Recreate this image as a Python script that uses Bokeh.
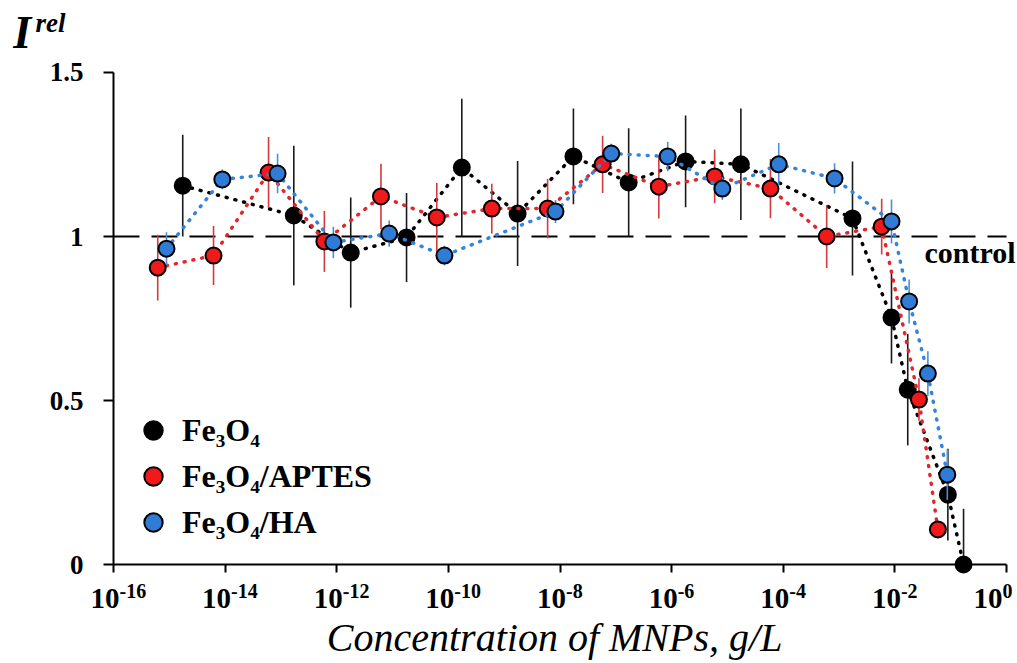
import numpy as np
from bokeh.plotting import figure
from bokeh.models import (Range1d, FixedTicker, ColumnDataSource, Label, LabelSet,
                          Legend, LegendItem)
from bokeh.embed import file_html
from bokeh.resources import INLINE

# ---------------- data ----------------
fe3o4_conc = [1.74e-15, 1.70e-13, 1.78e-12, 1.78e-11, 1.74e-10, 1.74e-9, 1.74e-8,
              1.70e-7, 1.78e-6, 1.74e-5, 1.74e-3, 8.7e-3, 1.7e-2, 8.9e-2, 0.17]
fe3o4_irel = [1.155, 1.064, 0.951, 0.997, 1.21, 1.07, 1.244,
              1.165, 1.229, 1.22, 1.055, 0.753, 0.533, 0.213, 0.0]
fe3o4_err = [0.155, 0.213, 0.168, 0.136, 0.21, 0.16, 0.146,
             0.165, 0.14, 0.17, 0.174, 0.14, 0.17, 0.14, 0.17]

aptes_conc = [6.2e-16, 6.2e-15, 6.0e-14, 6.0e-13, 6.2e-12, 6.2e-11, 6.0e-10, 6.0e-9,
              5.8e-8, 5.9e-7, 5.9e-6, 5.9e-5, 6.0e-4, 5.8e-3, 2.7e-2, 5.9e-2]
aptes_irel = [0.905, 0.942, 1.195, 0.985, 1.122, 1.058, 1.085, 1.085,
              1.22, 1.152, 1.183, 1.146, 1.0, 1.03, 0.503, 0.107]
aptes_err = [0.1, 0.09, 0.108, 0.093, 0.1, 0.105, 0.076, 0.09,
             0.087, 0.097, 0.082, 0.09, 0.096, 0.085, 0.065, 0.0]

ha_conc = [8.9e-16, 8.9e-15, 8.7e-14, 8.7e-13, 8.7e-12, 8.5e-11, 8.3e-9, 8.3e-8,
           8.5e-7, 8.1e-6, 8.3e-5, 8.3e-4, 8.7e-3, 1.8e-2, 3.9e-2, 8.7e-2]
ha_irel = [0.963, 1.174, 1.192, 0.982, 1.009, 0.942, 1.076, 1.253,
           1.244, 1.146, 1.22, 1.177, 1.046, 0.802, 0.582, 0.274]
ha_err = [0.05, 0.03, 0.06, 0.048, 0.04, 0.03, 0.035, 0.03,
          0.045, 0.035, 0.065, 0.046, 0.067, 0.067, 0.068, 0.077]

series_names = ["Fe\u2083O\u2084", "Fe\u2083O\u2084/APTES", "Fe\u2083O\u2084/HA"]

x_tick_values = [1e-16, 1e-14, 1e-12, 1e-10, 1e-8, 1e-6, 1e-4, 1e-2, 1.0]
x_tick_base = ["10"] * len(x_tick_values)
x_tick_exponents = ["-16", "-14", "-12", "-10", "-8", "-6", "-4", "-2", "0"]
y_tick_values = [0, 0.5, 1, 1.5]
y_tick_labels = ["0", "0.5", "1", "1.5"]
control_level = 1.0

# layout: horizontal nudge (px) of each x tick label (last one kept inside the page)
x_tick_label_shift = [6, 6, 6, 6, 6, 6, 6, 6, -4]

# axis extents and the visible window around them
x_min, x_max = 1e-16, 1.0
y_min, y_max = 0.0, 1.5
x_view = (9.45e-19, 1.574)
y_view = (-0.3018, 1.7195)

FONT = "Liberation Serif"

p = figure(width=1017, height=663, x_axis_type="log",
           x_range=Range1d(*x_view), y_range=Range1d(*y_view),
           output_backend="svg", toolbar_location=None, title=None,
           min_border_left=0, min_border_right=0, min_border_top=0,
           min_border_bottom=0)
p.outline_line_color = None
p.xgrid.visible = False
p.ygrid.visible = False
p.background_fill_color = "white"
p.border_fill_color = "white"

# control line
p.segment(x0=[x_min], x1=[x_max], y0=[control_level], y1=[control_level],
          line_color="black", line_width=2, line_dash="26 12")

styles = [
    dict(conc=fe3o4_conc, y=fe3o4_irel, e=fe3o4_err, fill="#000000",
         line="#000000", err="#1a1a1a"),
    dict(conc=aptes_conc, y=aptes_irel, e=aptes_err, fill="#f01a1a",
         line="#e3262b", err="#d43a3e"),
    dict(conc=ha_conc, y=ha_irel, e=ha_err, fill="#2f7bd6",
         line="#3483dc", err="#4a8fdc"),
]

scatter_renderers = []
for s in styles:
    y = np.array(s["y"])
    e = np.array(s["e"])
    src = ColumnDataSource(dict(x=s["conc"], y=y, lo=np.maximum(y - e, y_min), hi=y + e))
    p.segment(x0="x", y0="lo", x1="x", y1="hi", source=src,
              line_color=s["err"], line_width=1.6)
    p.line(x="x", y="y", source=src, line_color=s["line"], line_width=3.5,
           line_dash="1 8", line_cap="round")
    r = p.scatter(x="x", y="y", source=src, size=16, fill_color=s["fill"],
                  line_color="black", line_width=2)
    scatter_renderers.append(r)

# axes
xa = p.xaxis[0]
xa.ticker = FixedTicker(ticks=x_tick_values)
xa.major_label_text_font_size = "0px"
xa.major_label_text_alpha = 0
xa.fixed_location = y_min
xa.bounds = (x_min, x_max)
xa.axis_line_width = 2
xa.axis_line_color = "black"
xa.major_tick_line_width = 2
xa.major_tick_line_color = "black"
xa.major_tick_out = 8
xa.major_tick_in = 0
xa.minor_tick_out = 0
xa.minor_tick_in = 0

ya = p.yaxis[0]
ya.ticker = FixedTicker(ticks=y_tick_values)
ya.major_label_overrides = dict(zip(y_tick_values, y_tick_labels))
ya.fixed_location = x_min
ya.bounds = (y_min, y_max)
ya.axis_line_width = 2
ya.axis_line_color = "black"
ya.major_tick_line_width = 2
ya.major_tick_line_color = "black"
ya.major_tick_out = 10
ya.major_tick_in = 0
ya.minor_tick_out = 0
ya.minor_tick_in = 0
ya.major_label_standoff = 20
ya.major_label_text_font = FONT
ya.major_label_text_font_style = "bold"
ya.major_label_text_font_size = "27px"
ya.major_label_text_color = "black"

# x tick labels: "10" with a raised exponent
tick_src = ColumnDataSource(dict(x=x_tick_values, base=x_tick_base,
                                 exp=x_tick_exponents, dx=x_tick_label_shift,
                                 yb=[-0.134] * len(x_tick_values),
                                 ye=[-0.1006] * len(x_tick_values)))
p.add_layout(LabelSet(x="x", y="yb", text="base", source=tick_src, x_offset="dx",
                      text_align="right", text_baseline="alphabetic",
                      text_font=FONT, text_font_style="bold",
                      text_font_size="29px", text_color="black"))
p.add_layout(LabelSet(x="x", y="ye", text="exp", source=tick_src, x_offset="dx",
                      text_align="left", text_baseline="alphabetic",
                      text_font=FONT, text_font_style="bold",
                      text_font_size="20px", text_color="black"))

# texts
p.add_layout(Label(x=8e-9, y=-0.224, text="Concentration of MNPs, g/L",
                   text_font=FONT, text_font_style="italic", text_font_size="40px",
                   text_align="center", text_baseline="alphabetic", text_color="black"))
p.add_layout(Label(x=1.6e-18, y=1.622, text="I", text_font=FONT,
                   text_font_style="bold italic", text_font_size="46px",
                   text_align="left", text_baseline="alphabetic", text_color="black"))
p.add_layout(Label(x=4.0e-18, y=1.652, text="rel", text_font=FONT,
                   text_font_style="bold italic", text_font_size="27px",
                   text_align="left", text_baseline="alphabetic", text_color="black"))
p.add_layout(Label(x=1.45, y=0.951, text="control", text_font=FONT,
                   text_font_style="bold", text_font_size="30px",
                   text_align="right", text_baseline="alphabetic", text_color="black"))

legend = Legend(items=[LegendItem(label=n, renderers=[r])
                       for n, r in zip(series_names, scatter_renderers)],
                location=(130, 118), orientation="vertical",
                glyph_width=46, glyph_height=46, spacing=0, padding=0, margin=0,
                label_standoff=6, label_text_font=FONT, label_text_font_style="bold",
                label_text_font_size="32px", label_text_color="black",
                border_line_color=None, background_fill_alpha=0)
p.add_layout(legend)

open("out.html", "w").write(file_html(p, INLINE))
